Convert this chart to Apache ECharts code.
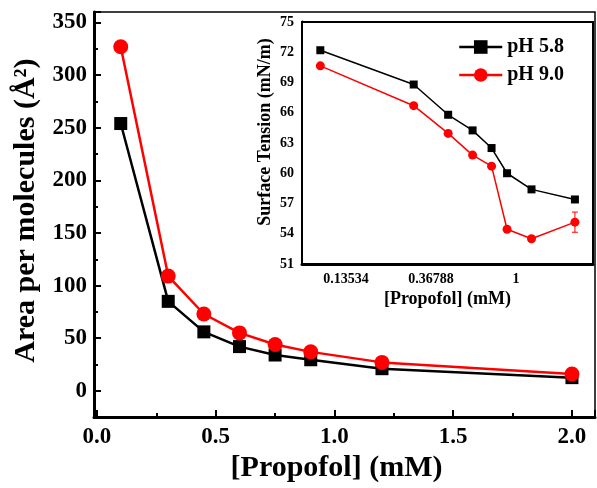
<!DOCTYPE html>
<html><head><meta charset="utf-8">
<script src="https://cdn.jsdelivr.net/npm/echarts@6/dist/echarts.min.js"></script>
<style>html,body{margin:0;padding:0;background:#fff}#c{width:597px;height:488px}</style>
</head><body><div id="c"></div>
<script>
// Main chart data
const conc = [0.1, 0.3, 0.45, 0.6, 0.75, 0.9, 1.2, 2.0];
const area58 = [254, 85, 56, 42, 34, 29.5, 21, 12.5];
const area90 = [327, 109, 73, 55, 44, 37, 27, 16];
// Inset data
const st58 = [72.2, 68.8, 65.8, 64.25, 62.5, 60.0, 58.4, 57.4];
const st90 = [70.65, 66.7, 63.95, 61.8, 60.7, 54.45, 53.5, 55.15];
const st58err = [0, 0, 0, 0, 0, 0, 0, 0.2];
const st90err = [0, 0, 0, 0, 0, 0, 0, 1.0];
const insetTicks = ['0.13534', '0.36788', '1'];

const F = 'Liberation Serif, Times New Roman, serif';
const RED = '#ff0000';
const pairs = (xs, ys) => xs.map((x, i) => [x, ys[i]]);

function errSeries(name, vals, errs, color) {
  return {
    type: 'custom', xAxisIndex: 1, yAxisIndex: 1, silent: true, z: 8,
    data: conc.map((x, i) => [x, vals[i], errs[i]]).filter(d => d[2] > 0),
    renderItem: function (params, api) {
      const x = api.value(0), y = api.value(1), e = api.value(2);
      const top = api.coord([x, y + e]), bot = api.coord([x, y - e]);
      const w = 3;
      return {
        type: 'group', children: [
          {type: 'line', shape: {x1: top[0], y1: top[1], x2: bot[0], y2: bot[1]}, style: {stroke: color, lineWidth: 1}},
          {type: 'line', shape: {x1: top[0]-w, y1: top[1], x2: top[0]+w, y2: top[1]}, style: {stroke: color, lineWidth: 1}},
          {type: 'line', shape: {x1: bot[0]-w, y1: bot[1], x2: bot[0]+w, y2: bot[1]}, style: {stroke: color, lineWidth: 1}}
        ]
      };
    }
  };
}

const chart = echarts.init(document.getElementById('c'), null, {renderer: 'canvas'});
chart.setOption({
  animation: false,
  backgroundColor: '#fff',
  textStyle: {fontFamily: F},
  legend: {
    data: ['pH 5.8', 'pH 9.0'],
    left: 453, top: 32, orient: 'vertical', itemGap: 8,
    itemWidth: 43, itemHeight: 17, z: 20,
    textStyle: {fontFamily: F, fontWeight: 'bold', fontSize: 20, color: '#000'},
    lineStyle: {width: 2.5}
  },
  grid: [
    {left: 94, right: 2, top: 12, bottom: 66, show: true, borderColor: '#000', borderWidth: 1.5},
    {left: 302, right: 4, top: 22, bottom: 224, show: true, borderColor: '#000', borderWidth: 2, backgroundColor: '#fff', z: 5}
  ],
  xAxis: [
    {
      type: 'value', gridIndex: 0, min: -0.0126, max: 2.097, splitNumber: 5,
      name: '[Propofol] (mM)', nameLocation: 'middle', nameGap: 23,
      nameTextStyle: {fontFamily: F, fontWeight: 'bold', fontSize: 30, color: '#000', padding: [0, 16, 0, 0]},
      axisLine: {onZero: false, lineStyle: {color: '#000', width: 3}},
      axisTick: {inside: true, length: 7, lineStyle: {width: 2}},
      minorTick: {show: true, splitNumber: 2, length: 4, lineStyle: {color: '#000', width: 2}},
      axisLabel: {fontFamily: F, fontWeight: 'bold', fontSize: 23, color: '#000', margin: 8,
        showMinLabel: false, showMaxLabel: false, formatter: v => v.toFixed(1)},
      splitLine: {show: false}
    },
    {
      type: 'log', logBase: Math.E, gridIndex: 1, min: 0.0806, max: 2.474,
      name: '[Propofol] (mM)', nameLocation: 'middle', nameGap: 26,
      nameTextStyle: {fontFamily: F, fontWeight: 'bold', fontSize: 18, color: '#000'},
      axisLine: {onZero: false, lineStyle: {color: '#000', width: 3}},
      axisTick: {inside: true, length: 5, lineStyle: {width: 1.5}},
      minorTick: {show: true, splitNumber: 9, length: 3, lineStyle: {color: '#000', width: 1.5}},
      axisLabel: {fontFamily: F, fontWeight: 'bold', fontSize: 14, color: '#000', margin: 8,
        showMinLabel: false, showMaxLabel: false,
        formatter: v => { const s = Math.abs(v - 1) < 1e-6 ? '1' : v.toFixed(5); return insetTicks.includes(s) ? s : ''; }},
      splitLine: {show: false}
    }
  ],
  yAxis: [
    {
      type: 'value', gridIndex: 0, min: -25, max: 360, splitNumber: 8,
      name: 'Area per molecules (Å²)', nameLocation: 'middle', nameGap: 48,
      nameTextStyle: {fontFamily: F, fontWeight: 'bold', fontSize: 30, color: '#000', padding: [0, 0, 0, 8]},
      axisLine: {onZero: false, lineStyle: {color: '#000', width: 3}},
      axisTick: {inside: true, length: 7, lineStyle: {width: 2}},
      minorTick: {show: true, splitNumber: 2, length: 4, lineStyle: {color: '#000', width: 2}},
      axisLabel: {fontFamily: F, fontWeight: 'bold', fontSize: 23, color: '#000', margin: 7,
        showMinLabel: false, showMaxLabel: false},
      splitLine: {show: false}
    },
    {
      type: 'value', gridIndex: 1, min: 51, max: 75, interval: 3,
      name: 'Surface Tension (mN/m)', nameLocation: 'middle', nameGap: 28,
      nameTextStyle: {fontFamily: F, fontWeight: 'bold', fontSize: 18, color: '#000', padding: [0, 0, 0, 22]},
      axisLine: {onZero: false, lineStyle: {color: '#000', width: 3}},
      axisTick: {inside: true, length: 5, lineStyle: {width: 1.5}},
      minorTick: {show: true, splitNumber: 3, length: 3, lineStyle: {color: '#000', width: 1.5}},
      axisLabel: {fontFamily: F, fontWeight: 'bold', fontSize: 14, color: '#000', margin: 8},
      splitLine: {show: false}
    }
  ],
  series: [
    {name: 'pH 5.8', type: 'line', xAxisIndex: 0, yAxisIndex: 0, data: pairs(conc, area58),
      symbol: 'rect', symbolSize: 13, lineStyle: {color: '#000', width: 2.5}, itemStyle: {color: '#000'}, z: 3},
    {name: 'pH 9.0', type: 'line', xAxisIndex: 0, yAxisIndex: 0, data: pairs(conc, area90),
      symbol: 'circle', symbolSize: 15, lineStyle: {color: RED, width: 2.5}, itemStyle: {color: RED}, z: 4},
    errSeries('e58', st58, st58err, '#000'),
    errSeries('e90', st90, st90err, RED),
    {name: 'pH 5.8', type: 'line', xAxisIndex: 1, yAxisIndex: 1, data: pairs(conc, st58),
      symbol: 'rect', symbolSize: 8, lineStyle: {color: '#000', width: 1.5}, itemStyle: {color: '#000'}, z: 9},
    {name: 'pH 9.0', type: 'line', xAxisIndex: 1, yAxisIndex: 1, data: pairs(conc, st90),
      symbol: 'circle', symbolSize: 9, lineStyle: {color: RED, width: 1.5}, itemStyle: {color: RED}, z: 10}
  ]
});
</script></body></html>
